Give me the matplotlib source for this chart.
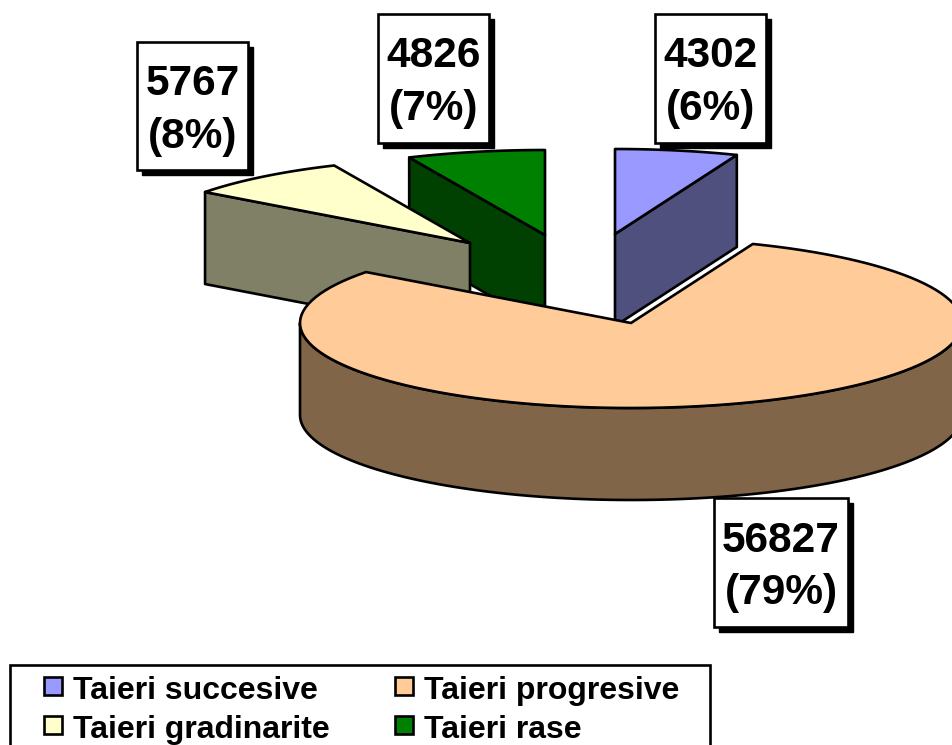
import numpy as np
import matplotlib
matplotlib.use('Agg')
import matplotlib.pyplot as plt
from matplotlib.patches import Polygon, Rectangle

# Data
categories = ['Taieri succesive', 'Taieri progresive', 'Taieri gradinarite', 'Taieri rase']
values = [4302, 56827, 5767, 4826]
top_colors = ['#9999FF', '#FFCC99', '#FFFFCC', '#008000']
side_colors = ['#50507F', '#806548', '#808066', '#004000']

plt.rcParams['font.family'] = ['Liberation Sans', 'DejaVu Sans']

fig = plt.figure(figsize=(9.52, 7.45), dpi=100)
ax = fig.add_axes([0, 0, 1, 1])
ax.set_xlim(0, 952)
ax.set_ylim(745, 0)
ax.axis('off')

RX, RY = 331, 85
DEPTH = 92
LW = 1.9

# slice apex positions (exploded), in pixels
apex = [(615, 234), (631, 323), (470, 243), (545, 235)]
# label boxes: x0, y0, x1, y1 and text baselines
boxes = [(655, 14, 766, 143, 67, 120), (714, 498, 848, 627, 552, 604),
         (137, 42, 248, 170, 95, 148), (378, 14, 489, 143, 67, 120)]

total = sum(values)
edges = np.concatenate([[0], np.cumsum(values)]) / total * 2 * np.pi


def arc(cx, cy, a0, a1, n=120):
    # angles run clockwise from 12 o'clock
    t = np.linspace(a0, a1, n)
    return np.column_stack([cx + RX * np.sin(t), cy - RY * np.cos(t)])


def add_poly(pts, color, z):
    ax.add_patch(Polygon(pts, closed=True, facecolor=color, edgecolor='black',
                         linewidth=LW, joinstyle='round', zorder=z))


def draw_slice(i, z):
    cx, cy = apex[i]
    top = arc(cx, cy, edges[i], edges[i + 1])
    down = np.array([0, DEPTH])
    if i == 1:
        # big slice shows its round outer wall
        wall = arc(cx, cy, np.pi / 2, 3 * np.pi / 2)
        add_poly(np.vstack([wall, (wall + down)[::-1]]), side_colors[i], z)
    else:
        # small slices show one flat cut face
        edge = top[-1] if i == 0 else top[0]
        corner = np.array([cx, cy])
        add_poly(np.array([corner, edge, edge + down, corner + down]), side_colors[i], z)
    add_poly(np.vstack([[cx, cy], top]), top_colors[i], z + 0.5)


# back to front
draw_slice(3, 2)
draw_slice(2, 3)
draw_slice(0, 4)
draw_slice(1, 5)

# value labels with drop shadow
for v, b in zip(values, boxes):
    x0, y0, x1, y1, base1, base2 = b
    ax.add_patch(Rectangle((x0 + 5, y0 + 5), x1 - x0, y1 - y0, facecolor='black',
                           edgecolor='black', linewidth=1, zorder=7))
    ax.add_patch(Rectangle((x0, y0), x1 - x0, y1 - y0, facecolor='white',
                           edgecolor='black', linewidth=LW, zorder=8))
    xm = (x0 + x1) / 2
    ax.text(xm, base1, str(v), ha='center', va='baseline', fontsize=30.5,
            fontweight='bold', color='black', zorder=9)
    ax.text(xm, base2, '(%d%%)' % round(100 * v / total), ha='center', va='baseline',
            fontsize=30.5, fontweight='bold', color='black', zorder=9)

# legend box runs off the bottom of the image
ax.add_patch(Rectangle((10, 665), 700, 100, facecolor='white', edgecolor='black',
                       linewidth=LW, zorder=10))
swatch_x = [44, 395, 44, 395]
swatch_y = [677, 677, 716, 716]
base_y = [699, 699, 738, 738]
for name, color, sx, sy, by in zip(categories, top_colors, swatch_x, swatch_y, base_y):
    ax.add_patch(Rectangle((sx, sy), 18, 18, facecolor=color, edgecolor='black',
                           linewidth=LW, zorder=11))
    ax.text(sx + 29, by, name, ha='left', va='baseline', fontsize=23,
            fontweight='bold', color='black', zorder=11)

fig.savefig('out.png', dpi=100)
